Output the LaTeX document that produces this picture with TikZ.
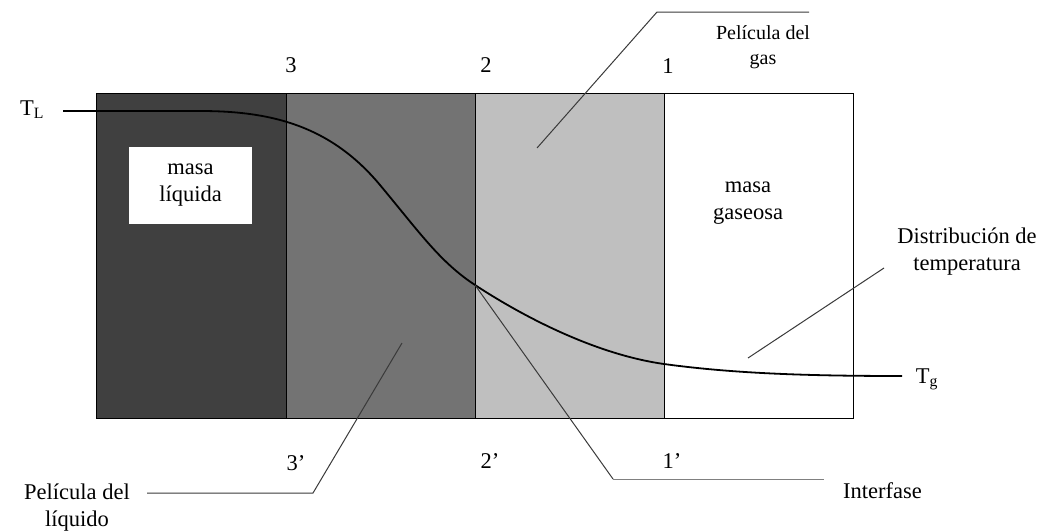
\documentclass[tikz,border=0pt]{standalone}
\usepackage{fontspec}
\setmainfont{Liberation Serif}
\definecolor{cdark}{HTML}{404040}
\definecolor{cmed}{HTML}{737373}
\definecolor{clight}{HTML}{BFBFBF}
\definecolor{cline}{HTML}{3A3A3A}
\begin{document}
\begin{tikzpicture}[x=1pt,y=-1pt,
  lbl/.style={font=\fontsize{22.5}{27}\selectfont, inner sep=0pt, align=center},
  small/.style={font=\fontsize{20}{25}\selectfont, inner sep=0pt, align=center},
  leader/.style={draw=cline, line width=1pt},
  zone/.style={draw=black, line width=1pt}]
\useasboundingbox (0,0) rectangle (1056,530);
% zones
\filldraw[zone, fill=cdark] (96,93) rectangle (286,418);
\filldraw[zone, fill=cmed] (286,93) rectangle (475,418);
\filldraw[zone, fill=clight] (475,93) rectangle (664,418);
\filldraw[zone, fill=white] (664,93) rectangle (853,418);
% masa liquida box
\node[lbl, fill=white, minimum width=123pt, minimum height=77pt] (ml) at (190.5,185.5) {masa\\líquida};
\node[lbl] (mg) at (748,203) {masa\\gaseosa};
% numbers
\node[lbl] (n3) at (291,65) {3};
\node[lbl] (n2) at (486,65) {2};
\node[lbl] (n1) at (668,66) {1};
\node[lbl] (n3p) at (296,463) {3’};
\node[lbl] (n2p) at (490,461) {2’};
\node[lbl] (n1p) at (672,461) {1’};
% temperature labels
\node[lbl] (TL) at (32,110) {T\textsubscript{L}};
\node[lbl] (Tg) at (927,379) {T\textsubscript{g}};
% temperature curve
\coordinate (cs) at (63,111);
\coordinate (c1) at (200,111);
\coordinate (c2) at (380,185);
\coordinate (iface) at (475,285);
\coordinate (c4) at (664,364);
\coordinate (ce) at (902,376);
\draw[line width=1.8pt] (cs) -- (c1)
  .. controls (270,111) and (330,125) .. (c2)
  .. controls (420,233) and (440,262) .. (iface)
  .. controls (530,321) and (600,355) .. (c4)
  .. controls (730,373) and (800,376) .. (ce);
% labels with leaders
\node[small] (pg) at (763,47) {Película del\\gas};
\coordinate (pga) at (537,148);
\coordinate (pgb) at (657,12);
\coordinate (pgc) at (809,12);
\draw[leader] (pga) -- (pgb) -- (pgc);

\node[lbl] (pl) at (77,508) {Película del\\líquido};
\coordinate (pla) at (402,343);
\coordinate (plb) at (313,493);
\coordinate (plc) at (147,493);
\draw[leader] (pla) -- (plb) -- (plc);

\node[lbl, anchor=west] (inf) at (843,491) {Interfase};
\coordinate (ifb) at (613,479);
\coordinate (ifc) at (824,479);
\draw[leader] (iface) -- (ifb);
\draw[draw=gray, line width=1pt] (ifb) -- (ifc);

\node[lbl] (dt) at (967,252) {Distribución de\\temperatura};
\coordinate (dta) at (748,358);
\coordinate (dtb) at (884,268);
\draw[leader] (dta) -- (dtb);
\end{tikzpicture}
\end{document}
